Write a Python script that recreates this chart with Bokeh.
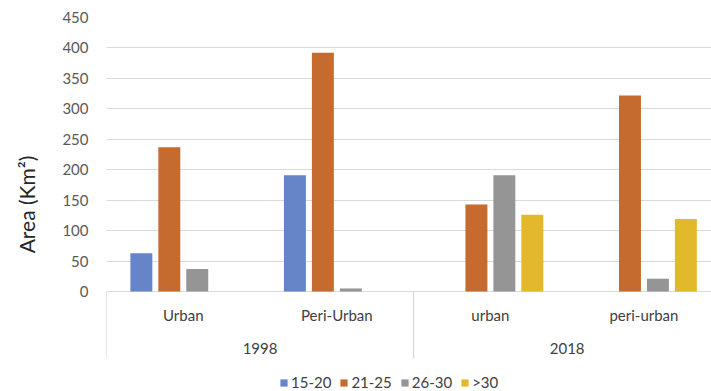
from bokeh.plotting import figure
from bokeh.models import Range1d, FixedTicker, Legend, LegendItem
from bokeh.core.properties import value
from bokeh.embed import file_html
from bokeh.resources import INLINE

# ---- data ----
locations = ["Urban", "Peri-Urban", "urban", "peri-urban"]
years = ["1998", "2018"]
series_names = ["15-20", "21-25", "26-30", ">30"]
v_15_20 = [63, 191, 0, 0]
v_21_25 = [237, 392, 143, 322]
v_26_30 = [37, 5, 191, 21]
v_gt30 = [0, 0, 126, 119]
y_ticks = [0, 50, 100, 150, 200, 250, 300, 350, 400, 450]
colors = ["#6685C8", "#C56B2F", "#959595", "#E3B82A"]

FONT = "Lato"
series = [v_15_20, v_21_25, v_26_30, v_gt30]

# layout (pixels)
TOP, ZERO_Y, H = 17, 291, 391
px_per_unit = (ZERO_Y - TOP) / 450.0
y_bottom = -(H - ZERO_Y) / px_per_unit


def y_at(py):
    return -(py - ZERO_Y) / px_per_unit


p = figure(width=711, height=H, output_backend="svg", toolbar_location=None,
           x_range=Range1d(0, 3.94), y_range=Range1d(y_bottom, 450),
           min_border_left=106, min_border_right=0, min_border_top=TOP,
           min_border_bottom=0, x_axis_type=None)
p.outline_line_color = None
p.xgrid.visible = False
p.ygrid.grid_line_color = "#d9d9d9"
p.ygrid.grid_line_width = 1
p.ygrid.ticker = FixedTicker(ticks=y_ticks)

# y axis
ya = p.yaxis[0]
ya.ticker = FixedTicker(ticks=y_ticks)
ya.axis_line_color = None
ya.major_tick_line_color = None
ya.minor_tick_line_color = None
ya.major_label_text_font = FONT
ya.major_label_text_font_size = "15px"
ya.major_label_text_color = "#595959"
ya.major_label_standoff = 12
ya.axis_label = "Area (Km²)"
ya.axis_label_text_font = FONT
ya.axis_label_text_font_size = "21px"
ya.axis_label_text_font_style = "normal"
ya.axis_label_text_color = "#262626"
ya.axis_label_standoff = 20

# bars
n = len(series)
pitch = 0.182
bw = 0.143
centers = [i + 0.5 for i in range(len(locations))]
items = []
for k, vals in enumerate(series):
    off = (k - (n - 1) / 2) * pitch
    xs = [c + off for c in centers]
    r = p.vbar(x=xs, top=vals, bottom=0, width=bw, fill_color=colors[k],
               line_color=None)
    items.append(LegendItem(label=series_names[k], renderers=[r]))

# group separators of the two-level category axis
group_edges = [0, 2]
p.segment(x0=group_edges, x1=group_edges, y0=[0] * 2, y1=[y_at(358)] * 2,
          line_color="#d0d0d0", line_width=1)

# category labels
p.text(x=centers, y=[y_at(314)] * len(centers), text=locations,
       text_font=value(FONT), text_font_size="15px", text_color="#404040",
       text_align="center", text_baseline="middle")
year_pos = [1.0, 3.0]
p.text(x=year_pos, y=[y_at(348)] * 2, text=years,
       text_font=value(FONT), text_font_size="15px", text_color="#404040",
       text_align="center", text_baseline="middle")

legend = Legend(items=items, orientation="horizontal", location=(173, 0))
legend.glyph_width = 9
legend.glyph_height = 9
legend.label_standoff = 3
legend.spacing = 8
legend.padding = 0
legend.margin = 0
legend.label_height = 12
legend.border_line_color = None
legend.background_fill_alpha = 0
legend.label_text_font = FONT
legend.label_text_font_size = "15px"
legend.label_text_color = "#404040"
p.add_layout(legend, "center")

open("out.html", "w").write(file_html(p, INLINE))
